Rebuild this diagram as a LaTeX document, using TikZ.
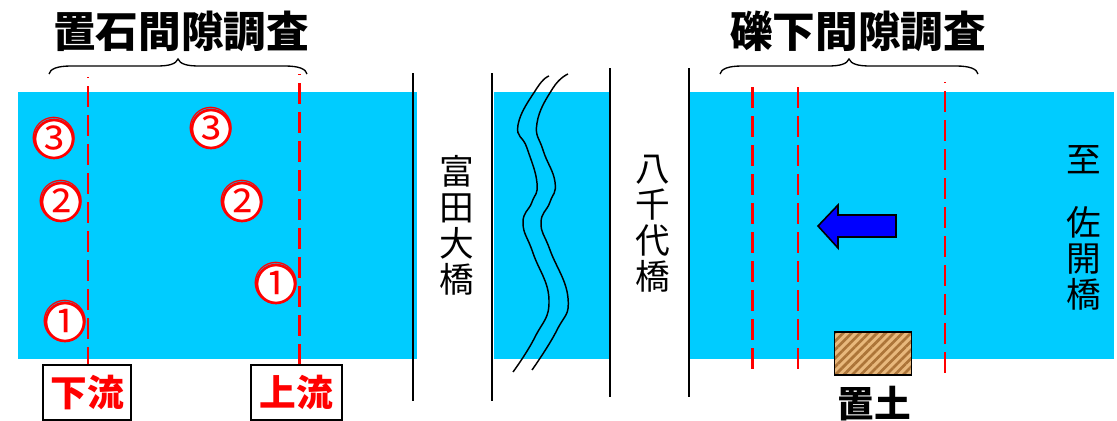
\documentclass[tikz,border=0pt]{standalone}
\usepackage{fontspec}
\setmainfont{Noto Sans CJK JP}
\usepackage{tikz}
\usetikzlibrary{patterns.meta}

\definecolor{water}{RGB}{0,204,255}
\definecolor{soillight}{RGB}{232,184,124}
\definecolor{soildark}{RGB}{172,116,56}

\newcommand{\markerdigit}[1]{\makebox[0pt]{\smash{\raisebox{-0.36em}{#1}}}}

\begin{document}
\begin{tikzpicture}[
        x=0.75pt,
        y=-0.75pt,
        waterbox/.style={fill=water, draw=none},
        bridge/.style={draw=black, line width=1.5pt},
        survey/.style={draw=red, line width=2.1pt, dash pattern=on 15.75pt off 6pt, dash phase=15pt},
        marker/.style={circle, draw=red, line width=2pt, fill=white, inner sep=0pt, minimum size=28.5pt, text=red, font=\fontsize{34pt}{34pt}\selectfont},
        heading/.style={font=\fontsize{32pt}{32pt}\selectfont\bfseries},
        place/.style={align=center, font=\fontsize{26pt}{27pt}\selectfont},
        stream/.style={rectangle, draw=black, line width=1.5pt, minimum width=67pt, minimum height=41pt, text=red, font=\fontsize{27.5pt}{27.5pt}\selectfont\bfseries},
        bracket/.style={draw=black, line width=1pt},
        wave/.style={draw=black, line width=1.1pt},
    ]
        \useasboundingbox (0,0) rectangle (1117,421);

        % river
        \fill[waterbox] (18,92) rectangle (417,359);
        \fill[waterbox] (494,92) rectangle (610,359);
        \fill[waterbox] (689,92) rectangle (1114,359);

        % bridges
        \draw[bridge] (413,73) -- (413,401);
        \draw[bridge] (491.5,73) -- (491.5,401);
        \draw[bridge] (610,68) -- (610,397);
        \draw[bridge] (689,68) -- (689,397);

        % break in the river
        \draw[wave] plot[smooth, tension=0.8] coordinates {(549,76) (537,88) (518,125) (527,148) (537,183) (532,202) (523,223) (533,253) (549,300) (535,337) (513,372)};
        \draw[wave] plot[smooth, tension=0.8] coordinates {(568,74) (553,88) (537,123) (543,150) (555,182) (550,202) (541,223) (550,250) (568,298) (557,330) (532,370)};

        % stone survey
        \node[stream, minimum width=66pt] (down) at (87,392.5) {下流};
        \node[stream, minimum width=68pt] (up) at (296.5,392.5) {上流};
        \coordinate (downtop) at (88,77);
        \coordinate (uptop) at (299.5,74);
        \draw[survey] (downtop) -- (downtop |- down.north);
        \draw[survey] (uptop) -- (uptop |- up.north);

        \node[marker] (downc) at (54,139) {\markerdigit{③}};
        \node[marker] (downb) at (61,202) {\markerdigit{②}};
        \node[marker] (downa) at (65,322) {\markerdigit{①}};
        \node[marker] (upc) at (211,129) {\markerdigit{③}};
        \node[marker] (upb) at (242,202) {\markerdigit{②}};
        \node[marker] (upa) at (276,284) {\markerdigit{①}};

        % bed survey
        \draw[survey, dash phase=0pt] (752.5,87) -- (752.5,372);
        \draw[survey, dash phase=0pt] (798,87) -- (798,372);
        \draw[survey] (945,82) -- (945,378);

        % flow direction
        \draw[draw=black, fill=blue, line width=1.2pt] (818,226) -- (838,205) -- (838,215) -- (896,215) -- (896,237) -- (838,237) -- (838,248) -- cycle;

        % soil
        \node[rectangle, draw=black, line width=1.1pt, inner sep=0pt, minimum width=58pt, minimum height=32pt,
            preaction={fill=soillight},
            pattern={Lines[angle=45, distance=4.5pt, line width=2pt]}, pattern color=soildark] (soil) at (873,353.5) {};
        \node[heading, font=\fontsize{27.5pt}{27.5pt}\selectfont\bfseries] (soillabel) at (874,404) {置土};

        % headings
        \node[heading] (stonetitle) at (181,31) {置石間隙調査};
        \node[heading] (bedtitle) at (858,31) {礫下間隙調査};
        \foreach \bx in {49,720} {
            \draw[bracket] (\bx,74) .. controls (\bx+1,69) and (\bx+8,66) .. (\bx+22,66) -- (\bx+108,66) .. controls (\bx+120,66) and (\bx+127,64) .. (\bx+129,59) .. controls (\bx+131,64) and (\bx+138,66) .. (\bx+150,66) -- (\bx+236,66) .. controls (\bx+250,66) and (\bx+257,69) .. (\bx+258,74);
        }

        % places
        \node[place] (tomita) at (457,225.5) {富\\田\\大\\橋};
        \node[place] (yachiyo) at (653,224) {八\\千\\代\\橋};
        \node[place] (to) at (1084,160) {至};
        \node[place] (sakai) at (1084,258.5) {佐\\開\\橋};
    \end{tikzpicture}
\end{document}
